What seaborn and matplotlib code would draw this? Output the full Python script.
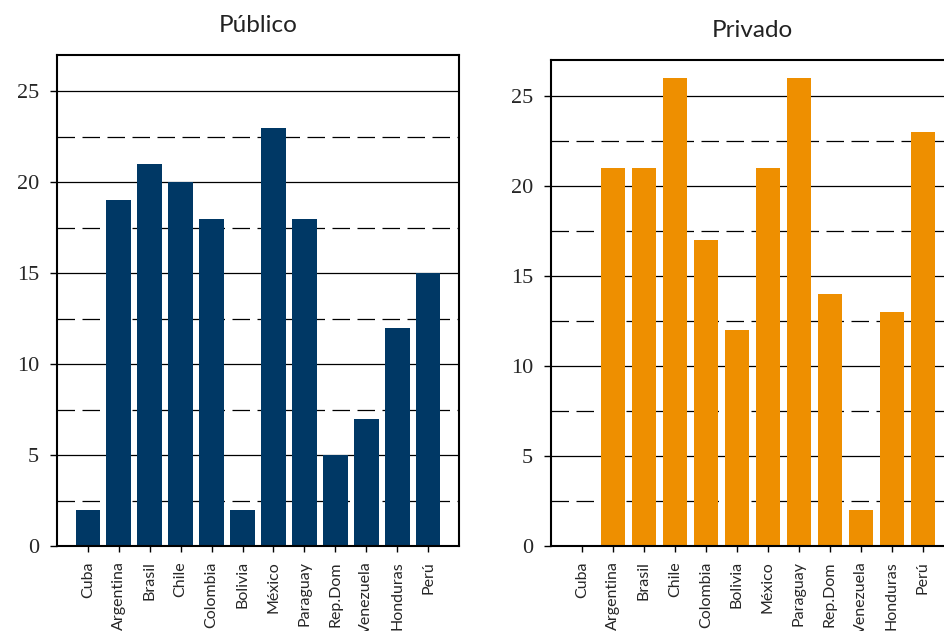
import matplotlib
matplotlib.use("Agg")
import matplotlib.pyplot as plt
import seaborn as sns
import pandas as pd

paises = ["Cuba", "Argentina", "Brasil", "Chile", "Colombia", "Bolivia",
          "México", "Paraguay", "Rep.Dom", "Venezuela", "Honduras", "Perú"]
publico = [2, 19, 21, 20, 18, 2, 23, 18, 5, 7, 12, 15]
privado = [0, 21, 21, 26, 17, 12, 21, 26, 14, 2, 13, 23]
titulos = ["Público", "Privado"]
colores = ["#003865", "#EE8F00"]
yticks_mayores = [0, 5, 10, 15, 20, 25]
yticks_menores = [2.5, 7.5, 12.5, 17.5, 22.5]

sns.set_style("white")
plt.rcParams["font.family"] = ["Lato", "DejaVu Sans"]

W, H = 945, 631
fig = plt.figure(figsize=(W / 100, H / 100), dpi=100)
ax1 = fig.add_axes([57 / W, 85 / H, 402 / W, 491 / H])
ax2 = fig.add_axes([551 / W, 85 / H, 403 / W, 486 / H])

for ax, valores, titulo, color in [
    (ax1, publico, titulos[0], colores[0]),
    (ax2, privado, titulos[1], colores[1]),
]:
    df = pd.DataFrame({"pais": paises, "valor": valores})
    sns.barplot(data=df, x="pais", y="valor", color=color, saturation=1,
                width=0.8, linewidth=0, edgecolor=color, ax=ax, zorder=3)
    ax.set_xlim(-1, 12)
    ax.set_ylim(0, 27)
    ax.set_yticks(yticks_mayores)
    ax.set_yticks(yticks_menores, minor=True)
    ax.grid(False)
    for v in yticks_mayores[1:]:
        ax.axhline(v, color="black", lw=0.9, zorder=1)
    for v in yticks_menores:
        ax.axhline(v, color="black", lw=0.9, ls=(0, (14, 6)), zorder=1)
    ax.set_xlabel("")
    ax.set_ylabel("")
    ax.set_title(titulo, fontsize=17.5, pad=16.5, color="#222222",
                 family=["Lato", "DejaVu Sans"])
    ax.tick_params(axis="y", which="major", direction="out", length=5,
                   width=1, color="black", left=True, pad=8)
    ax.tick_params(axis="y", which="minor", length=0)
    ax.tick_params(axis="x", direction="out", length=4, width=1,
                   color="black", bottom=True, rotation=90, pad=7)
    for lbl in ax.get_yticklabels():
        lbl.set_fontfamily(["Liberation Serif", "DejaVu Serif"])
        lbl.set_fontsize(16)
    for lbl in ax.get_xticklabels():
        lbl.set_fontsize(11.5)
        lbl.set_fontfamily(["Lato", "DejaVu Sans"])
    for side in ["left", "top", "bottom", "right"]:
        ax.spines[side].set_visible(True)
        ax.spines[side].set_color("black")
        ax.spines[side].set_linewidth(1.5)
        ax.spines[side].set_zorder(4)

fig.savefig("out.png", dpi=100)
